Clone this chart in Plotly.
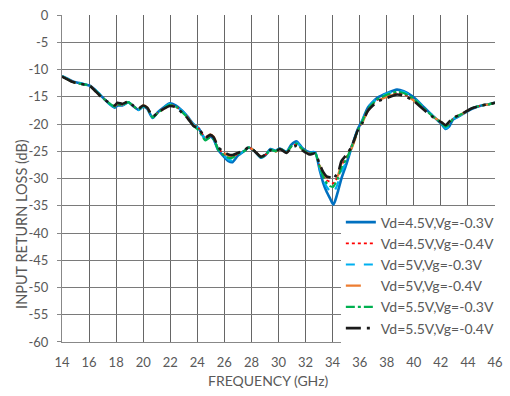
import plotly.graph_objects as go

freq = [14.0,14.4,14.8,15.3,15.8,16.1,16.4,16.8,17.2,17.6,
        17.9,18.1,18.45,18.9,19.3,19.65,20.0,20.3,20.7,21.1,
        21.6,21.95,22.4,22.9,23.3,23.7,24.1,24.6,24.95,25.2,
        25.55,25.9,26.3,26.6,27.0,27.5,27.8,28.2,28.7,29.05,
        29.4,29.8,30.1,30.6,30.95,31.35,31.8,32.3,32.7,33.05,
        33.3,33.55,33.8,34.05,34.2,34.4,34.65,35.0,35.4,35.85,
        36.2,36.6,37.3,38.05,38.75,39.25,39.95,40.7,41.4,42.05,
        42.35,42.6,42.9,43.6,44.3,45.0,45.5,46.0]

vd45_vg03 = [-11.2,-11.7,-12.2,-12.5,-12.8,-13.0,-13.6,-14.6,-15.6,-16.5,
             -17.0,-16.6,-16.6,-16.0,-16.8,-17.4,-16.8,-17.2,-18.9,-17.8,
             -16.8,-16.2,-16.6,-17.6,-18.7,-20.0,-20.8,-22.8,-22.3,-22.8,
             -24.8,-25.8,-26.8,-27.0,-25.8,-24.9,-24.3,-24.9,-26.2,-25.7,
             -24.6,-24.9,-24.5,-25.1,-23.8,-23.2,-24.5,-25.2,-25.2,-28.5,
             -30.8,-32.4,-33.6,-34.8,-34.0,-32.3,-30.0,-27.5,-24.3,-21.0,
             -19.3,-17.0,-15.2,-14.3,-13.7,-14.0,-15.0,-16.8,-18.5,-20.0,
             -20.9,-20.5,-19.2,-18.2,-17.2,-16.6,-16.4,-16.1]

vd45_vg04 = [-11.3,-11.8,-12.3,-12.6,-12.8,-13.1,-13.7,-14.7,-15.6,-16.4,
             -16.8,-16.4,-16.5,-16.0,-16.8,-17.3,-16.7,-17.1,-18.7,-17.9,
             -17.0,-16.5,-16.8,-17.8,-18.8,-20.1,-20.8,-22.6,-22.1,-22.5,
             -24.5,-25.3,-26.0,-26.0,-25.5,-24.9,-24.3,-24.9,-26.0,-25.6,
             -24.8,-25.0,-24.6,-25.2,-24.2,-23.7,-24.7,-25.4,-25.3,-27.8,
             -29.3,-30.3,-30.6,-30.9,-30.4,-29.6,-27.6,-26.2,-24.0,-21.3,
             -19.6,-17.4,-15.6,-14.8,-14.3,-14.5,-15.5,-17.1,-18.6,-19.8,
             -20.5,-20.0,-19.0,-18.1,-17.1,-16.6,-16.4,-16.1]

vd5_vg03 = [-11.2,-11.7,-12.2,-12.5,-12.8,-13.0,-13.6,-14.6,-15.6,-16.5,
            -16.9,-16.5,-16.6,-16.0,-16.8,-17.4,-16.8,-17.2,-18.8,-17.8,
            -16.9,-16.3,-16.7,-17.7,-18.7,-20.0,-20.8,-22.8,-22.2,-22.7,
            -24.7,-25.6,-26.5,-26.7,-25.7,-24.9,-24.3,-24.9,-26.1,-25.7,
            -24.7,-24.9,-24.5,-25.1,-23.9,-23.4,-24.6,-25.3,-25.2,-28.2,
            -30.2,-31.5,-32.3,-32.6,-32.0,-30.8,-28.8,-27.0,-24.2,-21.1,
            -19.4,-17.1,-15.3,-14.4,-13.9,-14.1,-15.1,-16.9,-18.5,-19.9,
            -20.8,-20.4,-19.1,-18.2,-17.1,-16.6,-16.4,-16.1]

vd5_vg04 = [-11.3,-11.8,-12.3,-12.6,-12.8,-13.1,-13.8,-14.8,-15.6,-16.3,
            -16.7,-16.3,-16.4,-15.9,-16.7,-17.2,-16.6,-17.0,-18.6,-17.9,
            -17.1,-16.6,-16.9,-17.9,-18.9,-20.2,-20.7,-22.5,-21.9,-22.3,
            -24.2,-25.2,-25.8,-25.9,-25.3,-24.8,-24.2,-24.9,-26.0,-25.6,
            -24.8,-25.1,-24.6,-25.2,-24.3,-23.8,-24.8,-25.5,-25.4,-27.6,
            -29.0,-29.9,-30.3,-30.8,-30.3,-29.4,-27.3,-26.0,-24.5,-21.5,
            -19.8,-17.6,-15.8,-15.0,-14.5,-14.7,-15.6,-17.2,-18.6,-19.7,
            -20.3,-19.8,-18.9,-18.1,-17.1,-16.6,-16.4,-16.1]

vd55_vg03 = [-11.3,-11.8,-12.3,-12.6,-12.8,-13.1,-13.7,-14.7,-15.6,-16.4,
             -16.8,-16.4,-16.5,-16.0,-16.8,-17.3,-16.7,-17.1,-18.8,-17.9,
             -17.0,-16.5,-16.8,-17.9,-18.9,-20.3,-21.2,-23.0,-22.4,-22.8,
             -24.7,-25.6,-26.2,-26.2,-25.5,-24.9,-24.3,-24.9,-26.1,-25.7,
             -24.7,-25.0,-24.5,-25.2,-24.1,-23.6,-24.7,-25.4,-25.3,-27.9,
             -29.6,-30.8,-31.4,-31.5,-30.9,-29.9,-28.0,-26.5,-24.2,-21.3,
             -19.5,-17.3,-15.5,-14.6,-14.1,-14.3,-15.3,-17.0,-18.6,-19.8,
             -20.5,-20.1,-19.0,-18.1,-17.1,-16.6,-16.4,-16.1]

vd55_vg04 = [-11.3,-11.8,-12.3,-12.6,-12.8,-13.1,-13.8,-14.8,-15.6,-16.3,
             -16.6,-16.1,-16.3,-15.9,-16.7,-17.2,-16.6,-17.0,-18.6,-17.9,
             -17.1,-16.7,-16.9,-18.0,-19.0,-20.3,-20.8,-22.5,-22.0,-22.4,
             -24.3,-25.0,-25.6,-25.7,-25.3,-24.8,-24.2,-24.9,-26.0,-25.6,
             -24.8,-25.1,-24.6,-25.3,-24.4,-24.0,-24.9,-25.6,-25.4,-27.4,
             -28.8,-29.6,-29.8,-30.2,-29.6,-29.0,-26.8,-25.7,-24.2,-21.2,
             -19.8,-17.6,-15.9,-15.2,-14.6,-14.8,-15.7,-17.3,-18.7,-19.7,
             -20.2,-19.6,-18.9,-18.1,-17.1,-16.6,-16.4,-16.1]

series_names = ["Vd=4.5V,Vg=-0.3V", "Vd=4.5V,Vg=-0.4V", "Vd=5V,Vg=-0.3V",
                "Vd=5V,Vg=-0.4V", "Vd=5.5V,Vg=-0.3V", "Vd=5.5V,Vg=-0.4V"]
series_values = [vd45_vg03, vd45_vg04, vd5_vg03, vd5_vg04, vd55_vg03, vd55_vg04]

x_ticks = [14, 16, 18, 20, 22, 24, 26, 28, 30, 32, 34, 36, 38, 40, 42, 44, 46]
y_ticks = [0, -5, -10, -15, -20, -25, -30, -35, -40, -45, -50, -55, -60]
y_tick_labels = ["0", "-5", "-10", "-15", "-20", "-25", "-30", "-35",
                 "-40", "-45", "-50", "-55", "-60"]

colors = ["#0070C0", "#FF0000", "#00B0F0", "#ED7D31", "#00B050", "#1A1A1A"]
dashes = ["solid", "dot", "dash", "longdash", "dashdot", "longdashdot"]
widths = [2.6, 1.8, 2.2, 2.2, 2.2, 2.6]

fig = go.Figure()
for name, vals, c, d, w in zip(series_names, series_values, colors, dashes, widths):
    fig.add_trace(go.Scatter(x=freq, y=vals, mode="lines", name=name,
                             line=dict(color=c, dash=d, width=w, shape="spline", smoothing=0.6)))

font_family = "Lato, 'Open Sans', sans-serif"
fig.update_layout(
    width=510, height=396,
    margin=dict(l=62, r=7, t=9, b=54),
    paper_bgcolor="white", plot_bgcolor="white",
    font=dict(family=font_family, size=12, color="#595959"),
    showlegend=True,
    legend=dict(x=(346 - 62) / 441, y=(342 - 204) / 333, xanchor="left", yanchor="top",
                bgcolor="white", borderwidth=0,
                font=dict(size=14, color="#595959"),
                itemwidth=30, tracegroupgap=0,
                traceorder="normal"),
    xaxis=dict(range=[13.999, 46.001], tickmode="array", tickvals=x_ticks,
               showgrid=True, gridcolor="#666666", gridwidth=1.2,
               showline=True, linecolor="#888888", linewidth=1,
               ticks="", zeroline=False, mirror=False, ticklabelstandoff=8,
               ticklabeloverflow="allow",
               tickfont=dict(size=13, color="#595959")),
    yaxis=dict(range=[-60.001, 0.001], tickmode="array", tickvals=y_ticks,
               ticktext=y_tick_labels,
               showgrid=True, gridcolor="#7a7a7a", gridwidth=1.3,
               showline=True, linecolor="#888888", linewidth=1,
               ticks="outside", ticklen=4, tickcolor="#888888", zeroline=False,
               ticklabelstandoff=6, ticklabeloverflow="allow",
               tickfont=dict(size=13, color="#595959")),
    annotations=[
        dict(text="FREQUENCY (GHz)", xref="paper", yref="paper",
             x=(272 - 62) / 441, y=-(381 - 342) / 333, xanchor="center", yanchor="middle",
             showarrow=False, font=dict(size=14, color="#595959")),
        dict(text="INPUT RETURN LOSS (dB)", xref="paper", yref="paper",
             x=-(62 - 20) / 441, y=(342 - 222) / 333, xanchor="center", yanchor="middle",
             textangle=-90, showarrow=False, font=dict(size=14.5, color="#595959")),
    ],
)

fig.write_html("out.html", config={"displayModeBar": False},
               post_script="document.body.style.margin='0px';")
